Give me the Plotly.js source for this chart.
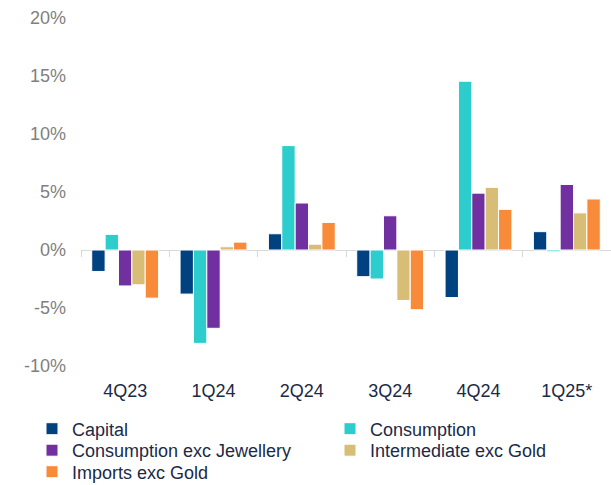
<!DOCTYPE html>
<html>
<head>
<meta charset="utf-8">
<script src="https://cdn.plot.ly/plotly-3.0.1.min.js"></script>
<style>html,body{margin:0;padding:0;background:#fff;}#chart{width:611px;height:485px;}</style>
</head>
<body>
<div id="chart"></div>
<script>
var categories = ['4Q23', '1Q24', '2Q24', '3Q24', '4Q24', '1Q25*'];
var seriesNames = ['Capital', 'Consumption', 'Consumption exc Jewellery', 'Intermediate exc Gold', 'Imports exc Gold'];
var capital = [-1.85, -3.8, 1.4, -2.3, -4.1, 1.58];
var consumption = [1.35, -8.05, 9.0, -2.5, 14.55, -0.15];
var consumptionExcJewellery = [-3.1, -6.75, 4.05, 2.95, 4.9, 5.65];
var intermediateExcGold = [-3.0, 0.28, 0.5, -4.35, 5.4, 3.2];
var importsExcGold = [-4.15, 0.68, 2.38, -5.15, 3.5, 4.4];
var seriesValues = [capital, consumption, consumptionExcJewellery, intermediateExcGold, importsExcGold];
var colors = ['#00427F', '#2ECDCD', '#7030A0', '#D8BD76', '#F78B3A'];
var legendIds = ['legend', 'legend2', 'legend3', 'legend4', 'legend5'];
var yTickVals = [-10, -5, 0, 5, 10, 15, 20];
var yTickText = ['-10%', '-5%', '0%', '5%', '10%', '15%', '20%'];

var traces = seriesNames.map(function (name, i) {
  return {
    type: 'bar',
    name: name,
    x: categories,
    y: seriesValues[i],
    legend: legendIds[i],
    marker: { color: colors[i], line: { color: '#ffffff', width: 1 } },
    hoverinfo: 'x+y+name'
  };
});
traces.push({
  type: 'scatter', mode: 'lines', x: categories, y: categories.map(function () { return null; }),
  xaxis: 'x2', yaxis: 'y', showlegend: false, hoverinfo: 'skip'
});

var plotLeft = 81, plotWidth = 530;
function legendAt(xPx, yPx) {
  return {
    orientation: 'h', x: (xPx - plotLeft) / plotWidth, xanchor: 'left',
    yref: 'container', y: 1 - yPx / 485, yanchor: 'middle',
    font: { size: 18, color: '#1B2A47' }, itemwidth: 30, bgcolor: 'rgba(0,0,0,0)'
  };
}

var layout = {
  width: 611, height: 485,
  margin: { l: 81, r: 0, t: 18, b: 119 },
  paper_bgcolor: '#ffffff', plot_bgcolor: '#ffffff',
  font: { family: 'Liberation Sans, Arial, sans-serif', size: 18, color: '#1B2A47' },
  barmode: 'group', bargap: 0.243, bargroupgap: 0,
  showlegend: true,
  xaxis: {
    type: 'category', categoryorder: 'array', categoryarray: categories,
    showline: false, showgrid: false, zeroline: false, ticks: '',
    tickfont: { size: 18, color: '#1B2A47' }, ticklabelstandoff: 12
  },
  xaxis2: {
    type: 'category', overlaying: 'x', matches: 'x', anchor: 'free', position: 1 / 3,
    categoryorder: 'array', categoryarray: categories, layer: 'below traces',
    showline: true, linecolor: '#D9D9D9', linewidth: 1,
    ticks: 'outside', tickson: 'boundaries', ticklen: 6, tickcolor: '#D9D9D9', tickwidth: 1,
    showticklabels: false, showgrid: false, zeroline: false
  },
  yaxis: {
    range: [-10, 20], tickvals: yTickVals, ticktext: yTickText,
    showgrid: false, zeroline: false, showline: false, ticks: '',
    tickfont: { size: 18, color: '#7F7F7F' }, ticklabelstandoff: 14
  },
  legend: legendAt(32, 429),
  legend2: legendAt(330, 429),
  legend3: legendAt(32, 450.5),
  legend4: legendAt(330, 450.5),
  legend5: legendAt(32, 472)
};

Plotly.newPlot('chart', traces, layout, { displayModeBar: false, staticPlot: true });
</script>
</body>
</html>
